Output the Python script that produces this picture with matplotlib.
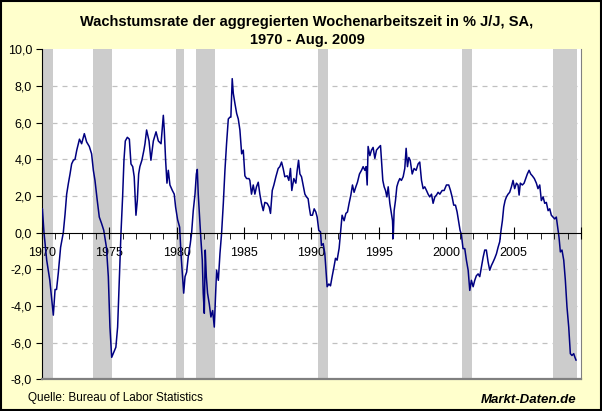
import matplotlib
matplotlib.use("Agg")
import matplotlib.pyplot as plt
from matplotlib.patches import Rectangle
from matplotlib.ticker import MultipleLocator, FuncFormatter

plt.rcParams['font.family'] = ['Liberation Sans', 'DejaVu Sans']

# year-over-year growth of aggregate weekly hours
dates = [
    1970.00, 1970.05, 1970.17, 1970.37, 1970.60, 1970.80, 1970.86, 1970.99, 1971.10,
    1971.23, 1971.40, 1971.60, 1971.73, 1971.85, 1971.98, 1972.10, 1972.22, 1972.35,
    1972.47, 1972.60, 1972.80, 1972.96, 1973.16, 1973.33, 1973.53, 1973.70, 1973.83,
    1973.95, 1974.12, 1974.27, 1974.44, 1974.60, 1974.80, 1974.94, 1975.06, 1975.19,
    1975.36, 1975.50, 1975.63, 1975.75, 1975.88, 1976.00, 1976.10, 1976.20, 1976.35,
    1976.50, 1976.62, 1976.75, 1976.86, 1976.99, 1977.09, 1977.19, 1977.28, 1977.43,
    1977.58, 1977.66, 1977.78, 1977.96, 1978.10, 1978.28, 1978.48, 1978.65, 1978.85,
    1979.02, 1979.09, 1979.19, 1979.29, 1979.39, 1979.51, 1979.69, 1979.83, 1979.93,
    1980.08, 1980.23, 1980.33, 1980.45, 1980.53, 1980.63, 1980.75, 1980.87, 1981.02,
    1981.12, 1981.24, 1981.37, 1981.47, 1981.54, 1981.61, 1981.71, 1981.81, 1981.91,
    1981.98, 1982.06, 1982.13, 1982.21, 1982.30, 1982.43, 1982.55, 1982.68, 1982.80,
    1982.90, 1982.97, 1983.10, 1983.22, 1983.34, 1983.47, 1983.59, 1983.71, 1983.84,
    1983.96, 1984.03, 1984.13, 1984.21, 1984.33, 1984.46, 1984.58, 1984.70, 1984.83,
    1984.95, 1985.07, 1985.20, 1985.37, 1985.44, 1985.56, 1985.69, 1985.81, 1985.93,
    1986.06, 1986.18, 1986.30, 1986.43, 1986.55, 1986.72, 1986.87, 1986.97, 1987.10,
    1987.22, 1987.37, 1987.54, 1987.66, 1987.79, 1987.91, 1988.03, 1988.21, 1988.33,
    1988.45, 1988.55, 1988.70, 1988.85, 1988.95, 1989.05, 1989.15, 1989.27, 1989.39,
    1989.52, 1989.64, 1989.76, 1989.84, 1989.94, 1990.08, 1990.21, 1990.33, 1990.43,
    1990.55, 1990.68, 1990.75, 1990.88, 1991.00, 1991.07, 1991.17, 1991.30, 1991.42,
    1991.54, 1991.67, 1991.79, 1991.91, 1992.06, 1992.16, 1992.28, 1992.43, 1992.56,
    1992.68, 1992.80, 1992.93, 1993.05, 1993.17, 1993.30, 1993.42, 1993.57, 1993.72,
    1993.84, 1993.97, 1994.06, 1994.14, 1994.21, 1994.34, 1994.46, 1994.58, 1994.71,
    1994.83, 1995.00, 1995.13, 1995.20, 1995.30, 1995.40, 1995.50, 1995.60, 1995.70,
    1995.82, 1995.94, 1996.02, 1996.07, 1996.14, 1996.24, 1996.34, 1996.44, 1996.56,
    1996.68, 1996.81, 1996.93, 1997.03, 1997.13, 1997.23, 1997.33, 1997.48, 1997.62,
    1997.77, 1997.92, 1998.04, 1998.17, 1998.29, 1998.41, 1998.54, 1998.66, 1998.78,
    1998.91, 1999.03, 1999.16, 1999.28, 1999.40, 1999.53, 1999.70, 1999.85, 2000.02,
    2000.19, 2000.32, 2000.44, 2000.56, 2000.69, 2000.81, 2000.93, 2001.03, 2001.13,
    2001.25, 2001.38, 2001.50, 2001.63, 2001.75, 2001.87, 2002.00, 2002.12, 2002.24,
    2002.37, 2002.49, 2002.61, 2002.74, 2002.86, 2002.98, 2003.11, 2003.23, 2003.35,
    2003.48, 2003.60, 2003.73, 2003.85, 2003.97, 2004.07, 2004.17, 2004.27, 2004.37,
    2004.47, 2004.59, 2004.71, 2004.84, 2004.96, 2005.08, 2005.21, 2005.33, 2005.41,
    2005.50, 2005.65, 2005.78, 2005.90, 2006.02, 2006.15, 2006.27, 2006.39, 2006.54,
    2006.69, 2006.81, 2006.94, 2007.06, 2007.19, 2007.31, 2007.43, 2007.56, 2007.68,
    2007.80, 2007.93, 2008.05, 2008.17, 2008.27, 2008.37, 2008.47, 2008.59, 2008.72,
    2008.84, 2008.96, 2009.09, 2009.21, 2009.33, 2009.46, 2009.55, 2009.63,
]
values = [
    1.1, 1.3, 0.0, -1.5, -2.6, -4.05, -4.5, -3.1, -3.1,
    -2.2, -0.8, 0.0, 1.0, 2.1, 2.7, 3.2, 3.75, 3.95,
    4.0, 4.5, 5.1, 4.85, 5.4, 4.95, 4.7, 4.3, 3.4,
    2.85, 1.75, 0.85, 0.5, 0.13, -0.8, -2.4, -5.15, -6.8,
    -6.5, -6.25, -5.15, -2.6, 0.0, 1.95, 3.95, 5.0, 5.2,
    5.1, 3.75, 3.6, 3.05, 0.95, 1.75, 3.2, 3.6, 3.95,
    4.5, 4.85, 5.6, 5.0, 3.95, 5.0, 5.5, 5.0, 4.85,
    6.4, 5.6, 3.95, 2.7, 3.4, 2.6, 2.3, 2.1, 1.4,
    0.7, 0.3, -1.15, -2.4, -3.3, -2.4, -2.15, -1.3, -0.6,
    0.0, 1.2, 2.1, 3.2, 3.45, 2.1, 0.85, -0.4, -1.5,
    -3.3, -4.4, -0.95, -2.4, -3.3, -3.9, -4.6, -4.25, -5.15,
    -3.3, -2.05, -2.6, -1.15, -0.05, 1.6, 3.4, 4.85, 6.2,
    6.3, 6.3, 8.4, 7.6, 7.05, 6.5, 6.2, 5.6, 4.3,
    4.5, 3.1, 2.95, 2.95, 2.85, 2.1, 2.6, 2.1, 2.5,
    2.75, 2.1, 1.6, 1.2, 1.65, 1.6, 1.4, 1.05, 2.3,
    2.6, 3.05, 3.5, 3.6, 3.85, 3.5, 3.05, 3.1, 2.85,
    3.5, 2.3, 2.95, 2.7, 3.4, 3.95, 3.2, 3.05, 2.6,
    2.1, 1.95, 1.85, 1.4, 0.95, 0.95, 1.3, 1.13, 0.85,
    0.13, 0.04, -0.7, -0.6, -1.15, -1.9, -2.95, -2.8, -2.9,
    -2.4, -1.9, -1.4, -1.5, -0.85, -0.05, 0.95, 0.65, 1.05,
    1.13, 1.6, 2.05, 2.6, 2.2, 2.5, 2.75, 3.2, 3.4,
    3.6, 3.4, 3.6, 2.6, 4.7, 4.2, 4.5, 4.65, 4.05,
    4.5, 4.65, 4.75, 3.95, 2.85, 2.5, 2.3, 1.95, 2.5,
    1.6, 1.05, 0.65, -0.33, 1.2, 1.75, 2.5, 2.75, 2.95,
    2.85, 3.05, 3.5, 4.6, 3.6, 4.1, 3.95, 3.2, 3.5,
    3.4, 3.75, 3.85, 2.85, 2.4, 2.5, 2.3, 2.1, 1.95,
    2.1, 1.6, 1.95, 2.05, 2.2, 2.1, 2.3, 2.3, 2.6,
    2.6, 2.3, 1.95, 1.5, 1.5, 1.13, 0.6, 0.13, -0.1,
    -0.87, -0.87, -1.5, -2.05, -3.15, -2.6, -2.95, -2.6, -2.35,
    -2.25, -2.4, -1.9, -1.35, -0.95, -0.95, -1.6, -2.05, -1.8,
    -1.6, -1.4, -1.15, -0.8, -0.5, 0.13, 0.65, 1.4, 1.75,
    1.95, 2.1, 2.2, 2.5, 2.85, 2.4, 2.7, 2.6, 2.05,
    2.7, 2.6, 2.7, 2.95, 3.2, 3.4, 3.2, 3.1, 2.95,
    2.7, 2.4, 2.6, 1.75, 1.95, 1.6, 1.65, 1.2, 1.3,
    0.95, 0.85, 0.75, 0.85, 0.3, -0.25, -1.05, -0.95, -1.5,
    -2.6, -4.05, -5.15, -6.6, -6.7, -6.6, -6.8, -6.95,
]

# NBER recessions (start, end)
rec_start = [1970.0, 1973.83, 1979.96, 1981.45, 1990.5, 2001.15, 2007.9]
rec_end = [1970.82, 1975.2, 1980.55, 1982.87, 1991.22, 2001.9, 2009.68]

fig = plt.figure(figsize=(6.02, 4.11), dpi=100)
fig.patch.set_facecolor('#FFFFCC')
fig.patches.append(Rectangle((0.001, 0.002), 0.997, 0.995, transform=fig.transFigure,
                             fill=False, edgecolor='black', linewidth=1.5))

ax = fig.add_axes([0.0693, 0.0771, 0.8958, 0.8029])
ax.set_facecolor('white')

ax.set_xlim(1970, 2010)
ax.set_ylim(-8, 10)

# dashed grid lines
for g in [-6, -4, -2, 2, 4, 6, 8]:
    ax.axhline(g, color='#C0C0C0', linestyle=(0, (4, 4)), linewidth=0.9, zorder=1)

for s, e in zip(rec_start, rec_end):
    ax.axvspan(s, e, color='#CCCCCC', linewidth=0, zorder=2)

ax.plot(dates, values, color='#000080', linewidth=1.1, zorder=4)

# axes styling
ax.spines['top'].set_visible(False)
ax.spines['right'].set_color('#808080')
ax.spines['bottom'].set_position(('data', 0))
ax.spines['bottom'].set_zorder(5)
ax.xaxis.set_zorder(3)
ax.axhline(-8, color='#808080', linewidth=1.6, clip_on=False, zorder=5)

ax.yaxis.set_major_locator(MultipleLocator(2))
ax.yaxis.set_major_formatter(FuncFormatter(lambda v, p: f"{v:.1f}".replace('.', ',')))
ax.xaxis.set_major_locator(MultipleLocator(5))
ax.xaxis.set_minor_locator(MultipleLocator(1))
ax.xaxis.set_major_formatter(FuncFormatter(lambda v, p: f"{int(v)}" if v < 2009 else ""))

ax.tick_params(axis='y', direction='out', length=4, labelsize=9, pad=3)
ax.tick_params(axis='x', which='major', direction='inout', length=8, labelsize=9, pad=6)
ax.tick_params(axis='x', which='minor', direction='out', length=4)

fig.text(0.51, 0.925, "Wachstumsrate der aggregierten Wochenarbeitszeit in % J/J, SA,\n1970 - Aug. 2009",
         ha='center', va='center', fontsize=10.5, fontweight='bold', linespacing=1.4)

fig.text(0.047, 0.031, "Quelle: Bureau of Labor Statistics", ha='left', va='center', fontsize=8.5)
fig.text(0.957, 0.027, "Markt-Daten.de", ha='right', va='center', fontsize=9.5,
         fontweight='bold', fontstyle='italic')

fig.savefig("out.png", dpi=100, facecolor=fig.get_facecolor())
